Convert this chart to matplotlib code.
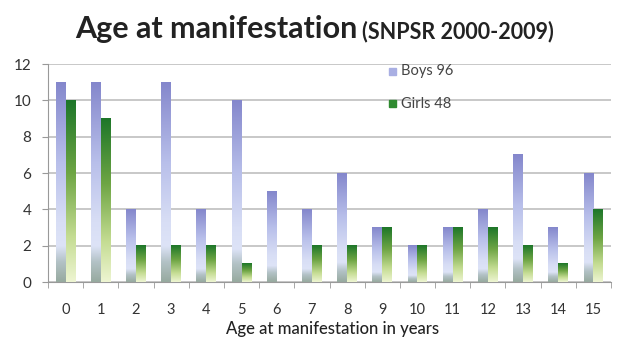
import numpy as np
import matplotlib.pyplot as plt
from matplotlib.colors import LinearSegmentedColormap
from matplotlib.patches import Rectangle

ages = list(range(16))
boys = [11, 11, 4, 11, 4, 10, 5, 4, 6, 3, 2, 3, 4, 7, 3, 6]
girls = [10, 9, 2, 2, 2, 1, 0, 2, 2, 3, 2, 3, 3, 2, 1, 4]
series_labels = ["Boys 96", "Girls 48"]

plt.rcParams['font.family'] = ['Lato', 'DejaVu Sans']

# per-bar vertical gradients, bottom -> top
boys_cmap = LinearSegmentedColormap.from_list(
    "boys", [(0.0, "#97aa9f"), (0.10, "#b3c2c6"), (0.18, "#dde3f7"),
             (0.30, "#d8def5"), (0.60, "#b8bfea"), (1.0, "#8487cc")])
girls_cmap = LinearSegmentedColormap.from_list(
    "girls", [(0.0, "#eef5d2"), (0.25, "#c4dc92"), (0.6, "#6ea544"),
              (1.0, "#1d7629")])
grad = np.linspace(0, 1, 256).reshape(-1, 1)

fig = plt.figure(figsize=(6.17, 3.45), dpi=100)
ax = fig.add_axes([48 / 617, 1 - 282 / 345, 563 / 617, 218 / 345])

width = 0.28
for x, b, g in zip(ages, boys, girls):
    if b > 0:
        ax.imshow(grad, extent=[x - width, x, 0, b], origin='lower',
                  aspect='auto', cmap=boys_cmap, zorder=3)
    if g > 0:
        ax.imshow(grad, extent=[x, x + width, 0, g], origin='lower',
                  aspect='auto', cmap=girls_cmap, zorder=3)

ax.set_xlim(-0.5, 15.5)
ax.set_ylim(0, 12)
ax.set_yticks(range(0, 13, 2))
ax.yaxis.grid(True, color="#c4c4c4", linewidth=1.3)
ax.set_axisbelow(True)

ax.set_xticks(ages)
ax.set_xticklabels([str(a) for a in ages])
ax.set_xticks(np.arange(-0.5, 16, 1), minor=True)
ax.tick_params(axis='x', which='major', length=0, pad=15, labelsize=10.5,
               labelcolor="#333333")
ax.tick_params(axis='x', which='minor', length=4, color="#999999")
ax.tick_params(axis='y', length=4, color="#999999", labelsize=11,
               labelcolor="#333333", pad=8)

for side in ('top', 'right'):
    ax.spines[side].set_visible(False)
for side in ('left', 'bottom'):
    ax.spines[side].set_color("#999999")

# axis title placed directly so it stays inside the figure
fig.text(333 / 617, 1 - 334 / 345, "Age at manifestation in years",
         fontsize=12, fontweight='medium', color="#222222",
         ha='center', va='baseline')

# legend
for y_px, label, color in [(71, series_labels[0], "#a9afe3"),
                           (104, series_labels[1], "#2f8a30")]:
    yf = 1 - y_px / 345
    fig.patches.append(Rectangle((389 / 617, yf - 3.5 / 345), 7 / 617, 7 / 345,
                                 transform=fig.transFigure, color=color,
                                 zorder=5))
    fig.text(401 / 617, yf, label, fontsize=10.5, color="#444444",
             va='center', ha='left')

# title in two sizes
t1 = fig.text(75 / 617, 1 - 38 / 345, "Age at manifestation", fontsize=22,
              fontweight='bold', color="#222222", va='baseline', ha='left')
fig.canvas.draw()
bb = t1.get_window_extent()
fig.text((bb.x1 + 5) / 617, 1 - 38 / 345, "(SNPSR 2000-2009)", fontsize=15.5,
         fontweight='bold', color="#222222", va='baseline', ha='left')

fig.savefig("out.png", dpi=100)
